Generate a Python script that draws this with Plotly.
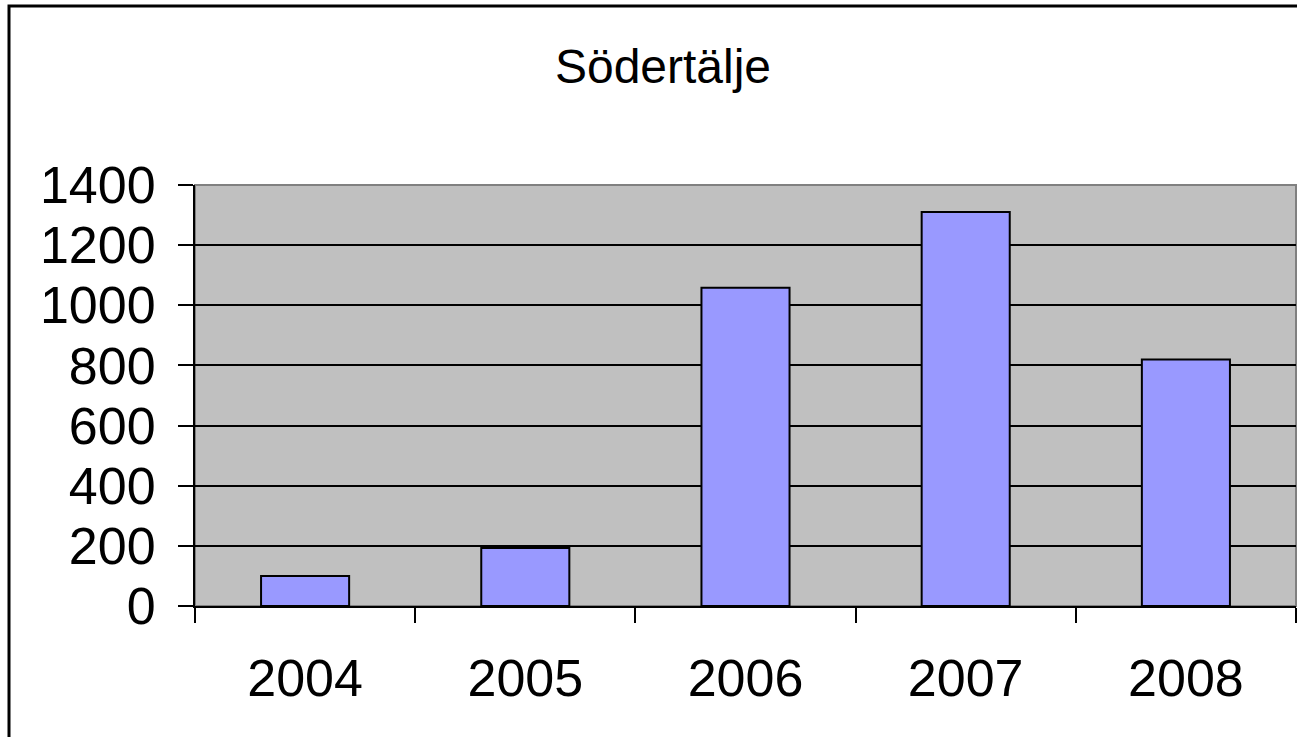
import plotly.graph_objects as go

years = ["2004", "2005", "2006", "2007", "2008"]
values = [100, 193, 1058, 1310, 820]
y_ticks = [0, 200, 400, 600, 800, 1000, 1200, 1400]
title_text = "Södertälje"

W, H = 1297, 737
L, R, T, B = 195, 1, 185, 131
pw = W - L - R
ph = H - T - B

fig = go.Figure()
fig.add_trace(go.Bar(
    x=years, y=values,
    marker=dict(color="#9999FF", line=dict(color="black", width=2)),
    width=0.4,
))

font = "Liberation Sans, Arial, sans-serif"
fig.update_layout(
    width=W, height=H,
    margin=dict(l=L, r=R, t=T, b=B, pad=0),
    paper_bgcolor="white",
    plot_bgcolor="#C0C0C0",
    showlegend=False,
    font=dict(family=font, color="black", size=52),
    title=dict(text=title_text, x=663 / W, xanchor="center",
               y=1 - 66 / H, yanchor="middle",
               font=dict(family=font, size=48, color="black")),
    xaxis=dict(
        type="category", tickson="boundaries",
        ticks="outside", ticklen=15, tickwidth=2, tickcolor="black",
        showline=True, linecolor="black", linewidth=2,
        showgrid=False, ticklabelstandoff=26,
        tickfont=dict(size=52),
        range=[-0.5, 4.5],
    ),
    yaxis=dict(
        range=[0, 1400], tickvals=y_ticks,
        ticks="outside", ticklen=15, tickwidth=2, tickcolor="black",
        showline=True, linecolor="black", linewidth=2,
        showgrid=True, gridcolor="black", gridwidth=2,
        zeroline=False, ticklabelstandoff=12,
        tickfont=dict(size=52),
    ),
    shapes=[
        dict(type="rect", xref="paper", yref="paper", x0=0, x1=1, y0=0, y1=1,
             line=dict(color="#808080", width=2), layer="below"),
        dict(type="rect", xref="paper", yref="paper",
             x0=(9 - L) / pw, x1=(W + 20 - L) / pw,
             y0=-(B + 20) / ph, y1=(H - B - 6) / ph,
             line=dict(color="black", width=3)),
    ],
)

fig.write_html(
    "out.html",
    config={"displayModeBar": False},
    post_script="document.body.style.margin='0';document.body.style.overflow='hidden';",
)
